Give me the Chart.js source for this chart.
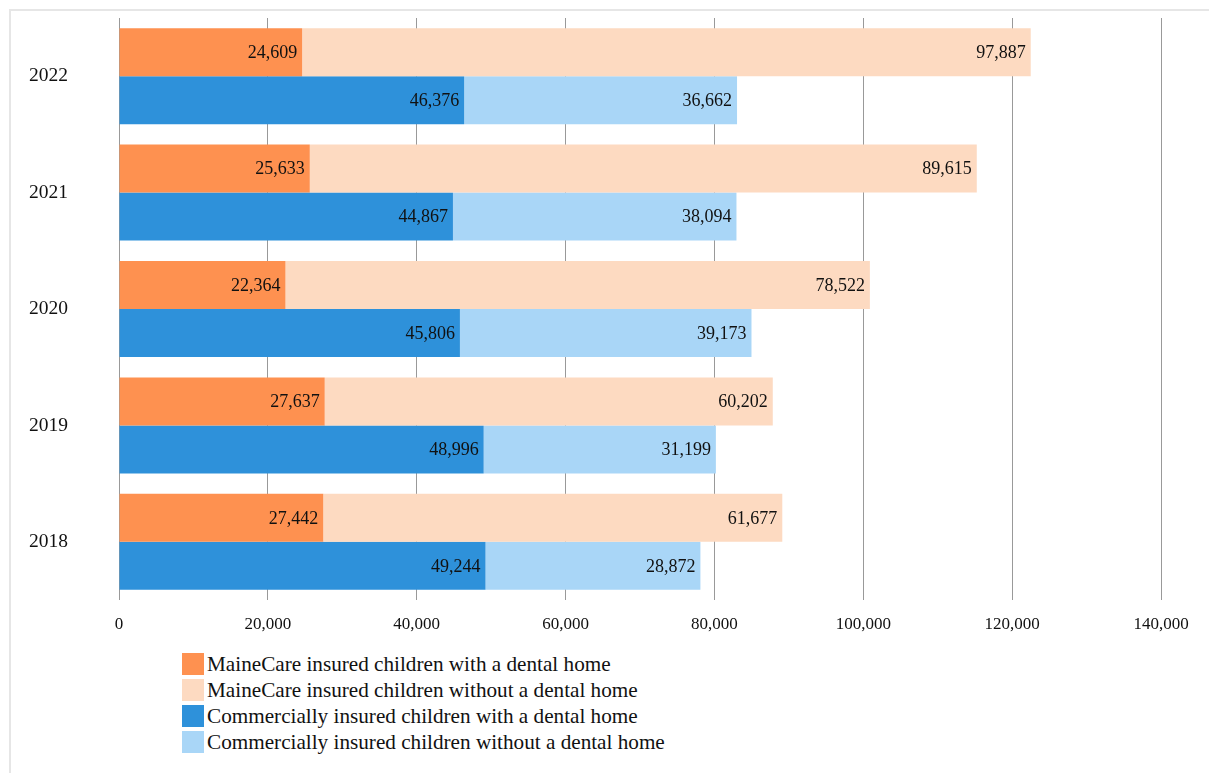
<!DOCTYPE html>
<html>
<head>
<meta charset="utf-8">
<script src="https://cdn.jsdelivr.net/npm/chart.js@4/dist/chart.umd.min.js"></script>
<style>
  html, body { margin: 0; padding: 0; background: #fff; }
  body { width: 1209px; height: 773px; position: relative; overflow: hidden; font-family: "Liberation Serif", "Times New Roman", serif; }
  #frame { position: absolute; left: 9px; top: 9px; right: -2px; bottom: -2px; border-top: 2px solid #e6e6e6; border-left: 2px solid #e6e6e6; }
  #wrap { position: absolute; left: 0; top: 0; width: 1209px; height: 640px; }
  #legend { position: absolute; left: 182px; top: 651px; }
  .item { height: 26px; display: flex; align-items: center; font-size: 21.2px; color: #111; }
  .box { width: 22px; height: 22px; margin-right: 3px; }
</style>
</head>
<body>
<div id="frame"></div>
<div id="wrap"><canvas id="c" width="1209" height="640"></canvas></div>
<div id="legend"></div>
<script>
const years = ['2022', '2021', '2020', '2019', '2018'];
const seriesNames = [
  'MaineCare insured children with a dental home',
  'MaineCare insured children without a dental home',
  'Commercially insured children with a dental home',
  'Commercially insured children without a dental home'
];
const maineCareWith    = [24609, 25633, 22364, 27637, 27442];
const maineCareWithout = [97887, 89615, 78522, 60202, 61677];
const commercialWith    = [46376, 44867, 45806, 48996, 49244];
const commercialWithout = [36662, 38094, 39173, 31199, 28872];
const xTicks = [0, 20000, 40000, 60000, 80000, 100000, 120000, 140000];

const colors = ['#FE9150', '#FDDAC1', '#2E91DA', '#A9D6F7'];
const FONT = '"Liberation Serif", "Times New Roman", serif';

const datasets = [
  { label: seriesNames[0], data: maineCareWith, backgroundColor: colors[0], stack: 'mc' },
  { label: seriesNames[1], data: maineCareWithout, backgroundColor: colors[1], stack: 'mc' },
  { label: seriesNames[2], data: commercialWith, backgroundColor: colors[2], stack: 'com' },
  { label: seriesNames[3], data: commercialWithout, backgroundColor: colors[3], stack: 'com' }
];

const labelPlugin = {
  id: 'segLabels',
  afterDatasetsDraw(chart) {
    const ctx = chart.ctx;
    ctx.save();
    ctx.font = '18px ' + FONT;
    ctx.fillStyle = '#111';
    ctx.textAlign = 'right';
    ctx.textBaseline = 'middle';
    chart.data.datasets.forEach((ds, i) => {
      chart.getDatasetMeta(i).data.forEach((bar, j) => {
        ctx.fillText(ds.data[j].toLocaleString('en-US'), bar.x - 5, bar.y + 1);
      });
    });
    ctx.restore();
  }
};

new Chart(document.getElementById('c'), {
  type: 'bar',
  data: { labels: years, datasets },
  plugins: [labelPlugin],
  options: {
    indexAxis: 'y',
    responsive: false,
    animation: false,
    devicePixelRatio: 1,
    layout: { padding: { top: 18, right: 48, left: 29, bottom: 0 } },
    datasets: { bar: { categoryPercentage: 0.825, barPercentage: 1.0, borderWidth: 0 } },
    plugins: { legend: { display: false }, tooltip: { enabled: false } },
    scales: {
      x: {
        stacked: true,
        min: 0, max: 140000,
        afterBuildTicks(scale) { scale.ticks = xTicks.map(v => ({ value: v })); },
        afterFit(scale) { scale.height = 40; },
        ticks: {
          padding: 14,
          maxRotation: 0,
          color: '#111',
          font: { family: FONT, size: 17 },
          callback: v => Number(v).toLocaleString('en-US')
        },
        grid: { color: '#999', lineWidth: 1, drawTicks: false },
        border: { display: false }
      },
      y: {
        stacked: true,
        afterFit(scale) { scale.width = 90; },
        ticks: { padding: 0, crossAlign: 'far', color: '#111', font: { family: FONT, size: 19.5 } },
        grid: { display: false },
        border: { display: false }
      }
    }
  }
});

const legend = document.getElementById('legend');
seriesNames.forEach((name, i) => {
  const row = document.createElement('div');
  row.className = 'item';
  const box = document.createElement('span');
  box.className = 'box';
  box.style.background = colors[i];
  const txt = document.createElement('span');
  txt.textContent = name;
  row.appendChild(box);
  row.appendChild(txt);
  legend.appendChild(row);
});
</script>
</body>
</html>
